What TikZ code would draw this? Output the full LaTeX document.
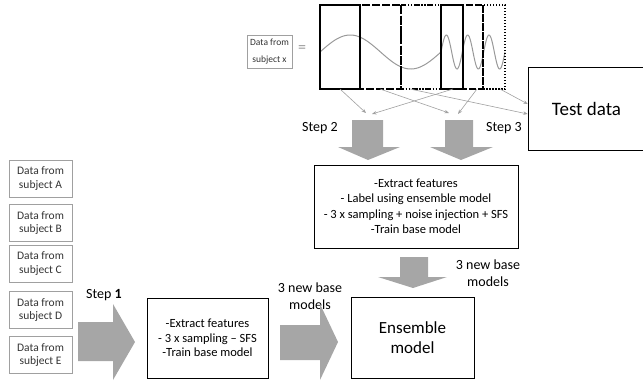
\documentclass[tikz,border=0pt]{standalone}
\usepackage{fontspec}
\setmainfont{Carlito}
\usetikzlibrary{arrows.meta}
\definecolor{arrowgray}{HTML}{A6A6A6}
\definecolor{linegray}{HTML}{A0A0A0}
\definecolor{wavegray}{HTML}{999999}
\definecolor{textgray}{HTML}{333333}
\newcommand{\fsz}[2]{\fontsize{#1}{#2}\selectfont}
\begin{document}
\begin{tikzpicture}[x=1pt,y=-1pt,
  smallbox/.style={draw=linegray, line width=0.7pt, minimum width=63pt, minimum height=37pt, inner sep=0pt, align=center, font=\fsz{11.5}{13.5}, text=textgray},
  mainbox/.style={draw=black, line width=0.6pt, inner sep=0pt, align=center},
  thinarrow/.style={draw=linegray, line width=0.6pt, -{Stealth[length=4.5pt,width=3.5pt]}},
  blockarrow/.style={fill=arrowgray, draw=none},
  win/.style={draw=black, line width=1.4pt},
  lbl/.style={font=\fsz{14}{17}, align=center, inner sep=0pt}
]
\useasboundingbox (0,0) rectangle (643,381);

% left subject boxes
\node[smallbox] (sa) at (40.5,178.5) {Data from\\subject A};
\node[smallbox] (sb) at (40.5,223) {Data from\\subject B};
\node[smallbox] (sc) at (40.5,263.5) {Data from\\subject C};
\node[smallbox] (sd) at (40.5,310) {Data from\\subject D};
\node[smallbox] (se) at (40.5,355) {Data from\\subject E};

% main boxes
\node[mainbox, minimum width=121pt, minimum height=80pt, font=\fsz{12.5}{14.5}] (b1) at (207.5,338)
  {-Extract features\\- 3 x sampling -- SFS\\-Train base model};
\node[mainbox, minimum width=204pt, minimum height=83pt, font=\fsz{12.5}{15.5}] (b2) at (416,206.5)
  {-Extract features\\- Label using ensemble model\\- 3 x sampling + noise injection + SFS\\-Train base model};
\node[mainbox, minimum width=123pt, minimum height=81pt, font=\fsz{17}{20.5}] (ens) at (412.5,337.5)
  {Ensemble\\model};
\node[mainbox, minimum width=117pt, minimum height=83pt, font=\fsz{19}{22}] (test) at (586.5,108.5)
  {Test data};
\node[smallbox, minimum width=45pt, minimum height=33pt, font=\fsz{9.5}{17}] (sx) at (269.5,51.5)
  {Data from\\subject x};
\node[font=\fsz{16}{18}, text=wavegray, inner sep=0pt] (eq) at (302,49) {=};

% labels
\node[lbl] (st1) at (104,295) {Step \textbf{1}};
\node[lbl] (st2) at (320,128) {Step 2};
\node[lbl] (st3) at (504,128) {Step 3};
\node[lbl] (nb1) at (310,296) {3 new base\\models};
\node[lbl] (nb2) at (488,273.5) {3 new base\\models};

% block arrows
\fill[blockarrow] (78,322) -- (113,322) -- (113,304) -- (135,342) -- (113,380) -- (113,361) -- (78,361) -- cycle;
\fill[blockarrow] (280,325) -- (320,325) -- (320,304) -- (338,342) -- (320,380) -- (320,360) -- (280,360) -- cycle;
\fill[blockarrow] (352,120) -- (383,120) -- (383,147) -- (400,147) -- (368,160) -- (338,147) -- (352,147) -- cycle;
\fill[blockarrow] (445,120) -- (473,120) -- (473,147) -- (493,147) -- (461,160) -- (430,147) -- (445,147) -- cycle;
\fill[blockarrow] (400,257) -- (428,257) -- (428,277) -- (447,277) -- (413,288) -- (378,277) -- (400,277) -- cycle;

% signal
\draw[wavegray, line width=1pt] plot[domain=320:441, samples=90, smooth] (\x,{52-17*sin(2.9752*(\x-320))});
\draw[wavegray, line width=1pt] plot[domain=441:505, samples=120, smooth] (\x,{52-17*sin(16.875*(\x-441))});

% windows
\draw[win, dash pattern=on 6pt off 1.5pt on 1.5pt off 1.5pt on 1.5pt off 1.5pt] (401,5) rectangle (441,89);
\draw[win, dash pattern=on 8pt off 2pt] (360,5) rectangle (401,89);
\draw[win] (320,5) rectangle (360,89);
\draw[win, dash pattern=on 1.5pt off 1.5pt] (483,5) rectangle (505,89);
\draw[win, dash pattern=on 7pt off 2pt] (463,5) rectangle (483,89);
\draw[win] (441,5) rectangle (463,89);

% thin arrow coordinates
\coordinate (w1) at (340,89);
\coordinate (w2) at (380,89);
\coordinate (w3) at (453,89);
\coordinate (w4) at (477,89);
\coordinate (w5) at (410,89);
\coordinate (w6) at (500,89);
\coordinate (t1) at (366,113);
\coordinate (t2) at (449,113);
\coordinate (t3) at (372,114);
\coordinate (t4) at (458,114);
\coordinate (t5) at (test.west |- 0,114);
\coordinate (t6) at (test.west |- 0,104);
\draw[thinarrow] (w1) -- (t1);
\draw[thinarrow] (w2) -- (t2);
\draw[thinarrow] (w3) -- (t3);
\draw[thinarrow] (w4) -- (t4);
\draw[thinarrow] (w5) -- (t5);
\draw[thinarrow] (w6) -- (t6);
\end{tikzpicture}
\end{document}
